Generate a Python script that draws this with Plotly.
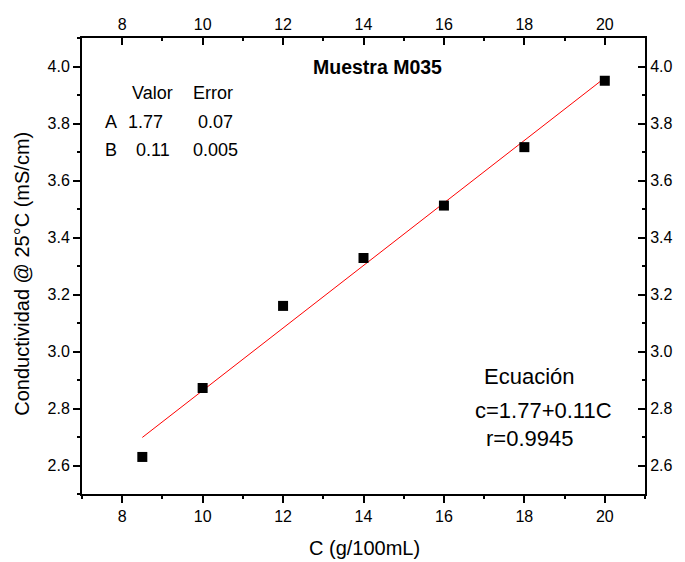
import numpy as np
import plotly.graph_objects as go

# Data
conc = [8.5, 10, 12, 14, 16, 18, 20]
cond = [2.63, 2.872, 3.16, 3.328, 3.512, 3.717, 3.95]
fit_A = 1.766
fit_B = 0.1097
fit_x = [8.5, 20]

title_text = "Muestra M035"
x_title = "C (g/100mL)"
y_title = "Conductividad @ 25°C (mS/cm)"

W, H = 685, 562
L, R, T, B = 82, 645, 38, 494

def px(xp):
    return (xp - L) / (R - L)

def py(yp):
    return (B - yp) / (B - T)

FONT = "Liberation Sans, Arial, sans-serif"

fit_y = [fit_A + fit_B * v for v in fit_x]

fig = go.Figure()
fig.add_trace(go.Scatter(x=fit_x, y=fit_y, mode="lines",
                         line=dict(color="red", width=1), showlegend=False,
                         hoverinfo="skip"))
fig.add_trace(go.Scatter(x=conc, y=cond, mode="markers",
                         marker=dict(symbol="square", size=10, color="black"),
                         showlegend=False))
fig.add_trace(go.Scatter(x=[None], y=[None], xaxis="x2", yaxis="y2",
                         showlegend=False, hoverinfo="skip"))

axis_common = dict(showline=True, linecolor="black", linewidth=2,
                   showgrid=False, zeroline=False, tickcolor="black",
                   tickwidth=2, ticklen=7,
                   tickfont=dict(family=FONT, size=16, color="black"))

fig.update_layout(
    width=W, height=H,
    margin=dict(l=L, r=W - R, t=T, b=H - B),
    paper_bgcolor="white", plot_bgcolor="white",
    xaxis=dict(range=[7, 21], dtick=2, tick0=8, ticks="outside",
               minor=dict(dtick=1, tick0=7, ticks="outside", ticklen=3,
                          tickwidth=2, tickcolor="black"),
               **axis_common),
    yaxis=dict(range=[2.5, 4.1], dtick=0.2, tick0=2.6, ticks="outside",
               tickformat=".1f",
               minor=dict(dtick=0.1, ticks="outside", ticklen=3,
                          tickwidth=2, tickcolor="black"),
               **axis_common),
    xaxis2=dict(range=[7, 21], dtick=2, tick0=8, ticks="inside",
                overlaying="x", side="top", anchor="y",
                minor=dict(dtick=1, tick0=7, ticks="inside", ticklen=3,
                           tickwidth=2, tickcolor="black"),
                **axis_common),
    yaxis2=dict(range=[2.5, 4.1], dtick=0.2, tick0=2.6, ticks="inside",
                tickformat=".1f", overlaying="y", side="right", anchor="x",
                minor=dict(dtick=0.1, ticks="inside", ticklen=3,
                           tickwidth=2, tickcolor="black"),
                **axis_common),
)

ann = []
def add(text, x, y, size, xanchor="left", bold=False, angle=0):
    ann.append(dict(text=("<b>%s</b>" % text) if bold else text,
                    x=px(x), y=py(y), xref="paper", yref="paper",
                    xanchor=xanchor, yanchor="middle", showarrow=False,
                    textangle=angle, borderpad=0,
                    font=dict(family=FONT, size=size, color="black")))

add(title_text, 377, 67, 19.5, xanchor="center", bold=True)
add("Valor", 130.7, 93, 18)
add("Error", 192.3, 93, 18)
add("A", 104, 121.5, 18)
add("1.77", 127.3, 121.5, 18)
add("0.07", 197.3, 121.5, 18)
add("B", 104, 150, 18)
add("0.11", 135, 150, 18)
add("0.005", 192.3, 150, 18)
add("Ecuación", 483.3, 376, 22)
add("c=1.77+0.11C", 474.3, 410, 22)
add("r=0.9945", 485, 438.5, 22)
add(x_title, 364, 548, 20, xanchor="center")
add(y_title, 21.7, 274, 20, xanchor="center", angle=-90)
fig.update_layout(annotations=ann)

fig.write_html("out.html")
